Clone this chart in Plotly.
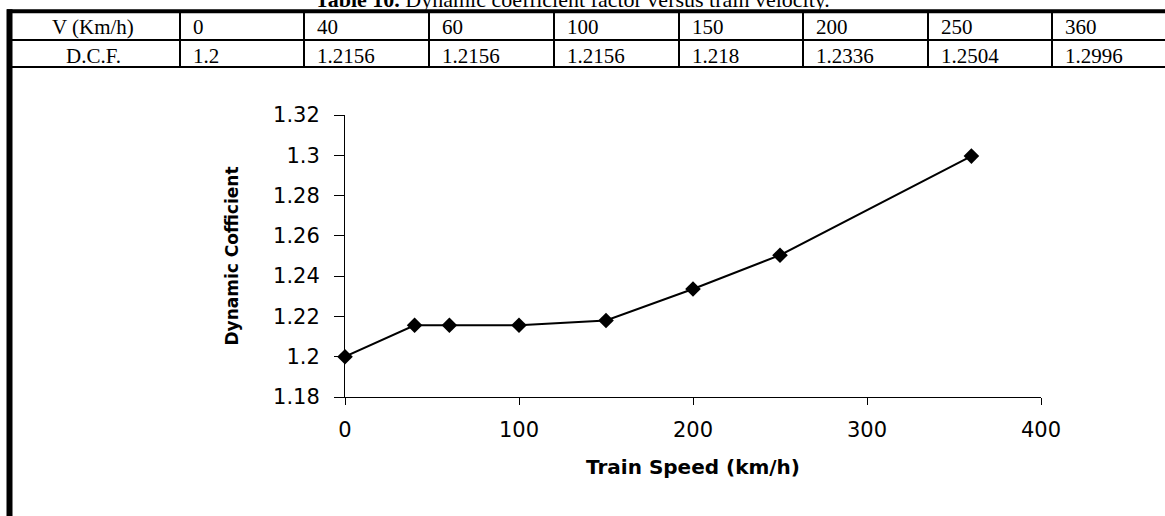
import plotly.graph_objects as go

# ---- data ----
speeds = [0, 40, 60, 100, 150, 200, 250, 360]
dcf = [1.2, 1.2156, 1.2156, 1.2156, 1.218, 1.2336, 1.2504, 1.2996]
row_labels = ["V (Km/h)", "D.C.F."]
x_ticks = [0, 100, 200, 300, 400]
y_ticks = [1.18, 1.2, 1.22, 1.24, 1.26, 1.28, 1.3, 1.32]
y_tick_text = ["1.18", "1.2", "1.22", "1.24", "1.26", "1.28", "1.3", "1.32"]
table_title = "<b>Table 10.</b> Dynamic coefficient factor versus train velocity."
x_title = "Train Speed (km/h)"
y_title = "Dynamic Cofficient"

W, H = 1165, 516
L, R, T, B = 345, 1041, 115, 397


def px(x):
    return (x - L) / (R - L)


def py(y):
    return (B - y) / (B - T)


fig = go.Figure()
fig.add_trace(go.Scatter(
    x=speeds, y=dcf, mode="lines+markers",
    line=dict(color="black", width=2),
    marker=dict(symbol="diamond", size=12, color="black"),
    showlegend=False, cliponaxis=False,
))

tick_font = dict(family="DejaVu Sans", size=21, color="black")
fig.update_xaxes(
    range=[0, 400], tickvals=x_ticks, showgrid=False, zeroline=False,
    showline=True, linecolor="black", linewidth=1,
    ticks="outside", ticklen=7, tickcolor="black", tickwidth=1,
    tickfont=tick_font, ticklabelstandoff=7,
    title=dict(text=f"<b>{x_title}</b>", font=dict(family="DejaVu Sans", size=20, color="black"), standoff=18),
)
fig.update_yaxes(
    range=[1.18, 1.32], tickvals=y_ticks, ticktext=y_tick_text, showgrid=False, zeroline=False,
    showline=True, linecolor="black", linewidth=1,
    ticks="outside", ticklen=10, tickcolor="black", tickwidth=1,
    tickfont=tick_font, ticklabelstandoff=10,
    title=dict(text=f"<b>{y_title}</b>", font=dict(family="DejaVu Sans", size=17, color="black"), standoff=30),
)

shapes = []


def hline(y, x0, x1, w):
    shapes.append(dict(type="line", xref="paper", yref="paper", x0=px(x0), x1=px(x1),
                       y0=py(y), y1=py(y), line=dict(color="black", width=w)))


def vline(x, y0, y1, w):
    shapes.append(dict(type="line", xref="paper", yref="paper", x0=px(x), x1=px(x),
                       y0=py(y0), y1=py(y1), line=dict(color="black", width=w)))


# table frame
hline(11.3, 7, W + 10, 4)
hline(40, 7, W + 10, 2)
hline(67, 7, W + 10, 2)
vline(9.5, 9.3, H + 10, 6)
col_edges = [180, 304, 429, 554, 679, 803, 928, 1052]
for cx in col_edges:
    vline(cx, 11, 67, 2)

annotations = []
cell_font = dict(family="Liberation Serif", size=21, color="black")
row_y = [27, 56]
for r, lab in enumerate(row_labels):
    annotations.append(dict(text=lab, x=px(93.5), y=py(row_y[r]), xref="paper", yref="paper",
                            showarrow=False, xanchor="center", yanchor="middle", font=cell_font))
for i, (s, d) in enumerate(zip(speeds, dcf)):
    annotations.append(dict(text=str(s), x=px(col_edges[i] + 11), y=py(row_y[0]), xref="paper", yref="paper",
                            showarrow=False, xanchor="left", yanchor="middle", font=cell_font))
    annotations.append(dict(text=str(d), x=px(col_edges[i] + 11), y=py(row_y[1]), xref="paper", yref="paper",
                            showarrow=False, xanchor="left", yanchor="middle", font=cell_font))

annotations.append(dict(text=table_title, x=px(572), y=py(-1), xref="paper", yref="paper",
                        showarrow=False, xanchor="center", yanchor="middle",
                        font=dict(family="Liberation Serif", size=22, color="black")))

fig.update_layout(
    width=W, height=H,
    margin=dict(l=L, r=W - R, t=T, b=H - B, autoexpand=False),
    paper_bgcolor="white", plot_bgcolor="white",
    shapes=shapes, annotations=annotations,
)

fig.write_html("out.html", config={"displayModeBar": False},
               post_script="document.body.style.margin='0';document.body.style.padding='0';")
